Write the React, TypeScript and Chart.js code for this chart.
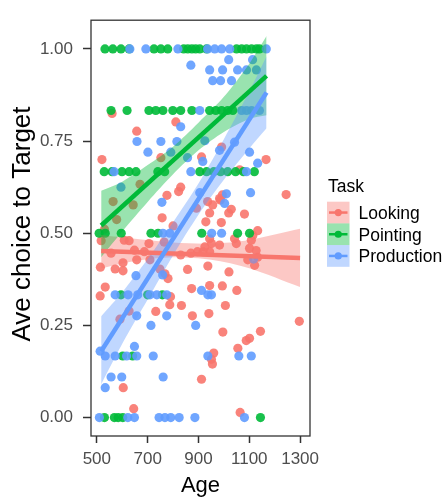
import React, { useEffect, useRef } from "react";
import { Chart, registerables } from "chart.js";

Chart.register(...registerables);

// ---------- DATA ----------
const AGE_TICKS = [500, 700, 900, 1100, 1300];
const CHOICE_TICKS = [0, 0.25, 0.5, 0.75, 1];
const TASKS = ["Looking", "Pointing", "Production"];

const lookingPoints: [number, number][] = [
  [560, 0.825], [657, 0.777], [811, 0.802], [520, 0.7], [912, 0.707], [991, 0.734], [1166, 0.7], [1062, 0.672],
  [670, 0.633], [830, 0.625], [822, 0.613], [776, 0.603], [994, 0.604], [986, 0.59], [1245, 0.605], [956, 0.577],
  [1029, 0.565], [1019, 0.555], [1081, 0.552], [944, 0.555], [929, 0.531], [990, 0.529], [757, 0.542], [800, 0.52],
  [892, 0.568], [936, 0.586], [983, 0.594], [1114, 0.494], [1133, 0.507], [944, 0.485], [1042, 0.485],
  [564, 0.586], [643, 0.577], [578, 0.537], [752, 0.705], [530, 0.511],
  [517, 0.48], [627, 0.48], [608, 0.481], [705, 0.472], [765, 0.476], [556, 0.446], [648, 0.454], [687, 0.45],
  [870, 0.446], [896, 0.45], [918, 0.45], [951, 0.472], [944, 0.45], [983, 0.468], [1049, 0.472], [1108, 0.481],
  [1101, 0.459], [1127, 0.453], [1094, 0.428], [1133, 0.435], [1121, 0.413], [925, 0.463], [830, 0.441],
  [514, 0.408], [572, 0.403], [603, 0.398], [657, 0.428], [709, 0.428], [748, 0.403], [780, 0.377], [768, 0.39],
  [857, 0.402], [937, 0.411], [1020, 0.395], [533, 0.354], [513, 0.33], [790, 0.328], [787, 0.306], [873, 0.35],
  [944, 0.358], [994, 0.357], [1051, 0.345], [833, 0.304], [1006, 0.304],
  [732, 0.288], [627, 0.289], [591, 0.267], [876, 0.276], [941, 0.282], [1297, 0.261], [996, 0.232], [1144, 0.234],
  [1088, 0.209], [1101, 0.215], [1055, 0.188], [960, 0.175], [951, 0.158], [955, 0.145], [912, 0.104], [604, 0.081],
  [645, 0.024], [1064, 0.014], [603, 0.42],
];

const pointingPoints: [number, number][] = [
  [532, 1], [563, 1], [595, 1], [627, 1], [725, 1], [752, 1], [779, 1], [842, 1], [858, 1], [874, 1], [889, 1],
  [905, 1], [932, 1], [1050, 1], [1070, 1], [1089, 1], [1109, 1], [1128, 1], [1140, 1],
  [556, 0.833], [619, 0.833], [705, 0.833], [732, 0.833], [760, 0.833], [799, 0.833], [830, 0.833], [874, 0.833],
  [944, 0.833], [968, 0.833], [991, 0.833], [1015, 0.833], [1035, 0.833],
  [529, 0.667], [560, 0.667], [599, 0.667], [627, 0.667], [654, 0.667], [740, 0.667], [767, 0.667], [905, 0.667],
  [932, 0.667], [960, 0.667], [987, 0.667], [1015, 0.667], [1046, 0.667], [1077, 0.667], [1120, 0.667],
  [509, 0.5], [533, 0.5], [596, 0.5], [713, 0.5], [741, 0.5], [913, 0.5], [1054, 0.5], [1101, 0.5],
  [595, 0.333], [700, 0.333], [758, 0.333],
  [602, 0.167], [641, 0.167],
  [530, 0], [569, 0], [584, 0], [602, 0], [1144, 0],
];

const productionPoints: [number, number][] = [
  [630, 1], [693, 1], [819, 1], [936, 1], [964, 1], [991, 1], [1023, 1], [1167, 1],
  [1019, 0.971], [1113, 0.971], [944, 0.943], [995, 0.943], [1054, 0.943], [1089, 0.943], [1128, 0.943],
  [956, 0.914], [987, 0.914], [1030, 0.914], [870, 0.956],
  [905, 0.833], [1070, 0.833], [1089, 0.833], [1109, 0.833], [1140, 0.833],
  [830, 0.789], [658, 0.749], [752, 0.749], [701, 0.72], [815, 0.749], [791, 0.72], [857, 0.705], [917, 0.695],
  [925, 0.751], [983, 0.725], [1042, 0.747], [1101, 0.72], [1133, 0.69],
  [568, 0.667], [870, 0.667], [1089, 0.667],
  [595, 0.625], [756, 0.584], [1105, 0.61], [1010, 0.607], [1003, 0.581], [905, 0.61],
  [760, 0.5], [787, 0.5], [952, 0.5], [991, 0.5],
  [572, 0.333], [623, 0.333], [661, 0.333], [709, 0.333], [736, 0.333], [775, 0.333], [937, 0.333], [951, 0.333],
  [912, 0.345], [654, 0.385], [759, 0.387], [1117, 0.43],
  [775, 0.276], [657, 0.276], [713, 0.25], [889, 0.25],
  [533, 0.167], [572, 0.167], [617, 0.167], [657, 0.167], [722, 0.167], [937, 0.167], [1059, 0.167], [1108, 0.167],
  [513, 0.18], [648, 0.193],
  [556, 0.11], [598, 0.11], [761, 0.11], [533, 0.081],
  [510, 0], [622, 0], [648, 0], [745, 0], [768, 0], [791, 0], [824, 0], [886, 0], [1081, 0],
];

// fitted lines (end points)
const lookingFit: [number, number][] = [[517, 0.452], [1300, 0.433]];
const pointingFit: [number, number][] = [[517, 0.521], [1168, 0.927]];
const productionFit: [number, number][] = [[517, 0.18], [1168, 0.882]];

// confidence bands (read at a few ages)
const lookingBandAge = [517, 650, 800, 950, 1100, 1300];
const lookingUpper = [0.495, 0.485, 0.475, 0.472, 0.482, 0.512];
const lookingLower = [0.405, 0.425, 0.435, 0.428, 0.405, 0.354];

const bandAge = [517, 600, 700, 800, 900, 1000, 1100, 1168];
const pointingUpper = [0.615, 0.64, 0.685, 0.735, 0.8, 0.87, 0.96, 1.035];
const pointingLower = [0.435, 0.505, 0.585, 0.66, 0.725, 0.775, 0.81, 0.82];
const productionUpper = [0.275, 0.34, 0.43, 0.53, 0.635, 0.755, 0.885, 0.98];
const productionLower = [0.09, 0.2, 0.32, 0.44, 0.55, 0.645, 0.73, 0.785];

// ---------- STYLE ----------
const COLORS = ["#F8766D", "#00BA38", "#619CFF"];
const BANDS = ["rgba(248,118,109,0.4)", "rgba(0,186,56,0.4)", "rgba(97,156,255,0.4)"];
const PTS = ["rgba(248,118,109,0.9)", "rgba(0,186,56,0.9)", "rgba(97,156,255,0.9)"];
const FONT = "'Liberation Sans', Arial, sans-serif";

const toXY = (arr: [number, number][]) => arr.map(([x, y]) => ({ x, y }));
const zipXY = (xs: number[], ys: number[]) => xs.map((x, i) => ({ x, y: ys[i] }));

const decorPlugin = {
  id: "decor",
  afterDraw(chart: any) {
    const { ctx, chartArea } = chart;
    const { left, right, top, bottom } = chartArea;
    ctx.save();
    // panel border
    ctx.strokeStyle = "#333333";
    ctx.lineWidth = 1.3;
    ctx.strokeRect(left, top, right - left, bottom - top);

    // axis titles
    ctx.fillStyle = "#000000";
    ctx.font = `22px ${FONT}`;
    ctx.textAlign = "center";
    ctx.textBaseline = "alphabetic";
    ctx.fillText("Age", (left + right) / 2, 492);

    ctx.save();
    ctx.translate(29.5, 224);
    ctx.rotate(-Math.PI / 2);
    ctx.font = `26px ${FONT}`;
    ctx.fillText("Ave choice to Target", 0, 0);
    ctx.restore();

    // legend
    ctx.textAlign = "left";
    ctx.font = `17.5px ${FONT}`;
    ctx.fillStyle = "#000000";
    ctx.fillText("Task", 328, 192);
    const keyX = 327;
    const keyW = 22.5;
    const keyH = 21.7;
    const keyTop = 201.7;
    TASKS.forEach((t, i) => {
      const y0 = keyTop + i * keyH;
      const cy = y0 + keyH / 2;
      ctx.fillStyle = BANDS[i];
      ctx.fillRect(keyX, y0, keyW, keyH);
      ctx.strokeStyle = COLORS[i];
      ctx.lineWidth = 2.5;
      ctx.beginPath();
      ctx.moveTo(keyX + 2, cy);
      ctx.lineTo(keyX + keyW - 2, cy);
      ctx.stroke();
      ctx.fillStyle = COLORS[i];
      ctx.beginPath();
      ctx.arc(keyX + keyW / 2, cy, 3.6, 0, Math.PI * 2);
      ctx.fill();
      ctx.fillStyle = "#000000";
      ctx.fillText(t, 358.5, cy + 6.3);
    });
    ctx.restore();
  },
};

export default function App() {
  const ref = useRef<HTMLCanvasElement | null>(null);

  useEffect(() => {
    if (!ref.current) return;
    const lineDs = (data: [number, number][], i: number) => ({
      type: "line" as const,
      data: toXY(data),
      borderColor: COLORS[i],
      borderWidth: 4.5,
      pointRadius: 0,
      fill: false,
      showLine: true,
      borderCapStyle: "butt" as const,
    });
    const upperDs = (xs: number[], ys: number[], i: number) => ({
      type: "line" as const,
      data: zipXY(xs, ys),
      borderColor: "transparent",
      borderWidth: 0,
      pointRadius: 0,
      backgroundColor: BANDS[i],
      fill: "+1",
      showLine: true,
      tension: 0.3,
    });
    const lowerDs = (xs: number[], ys: number[]) => ({
      type: "line" as const,
      data: zipXY(xs, ys),
      borderColor: "transparent",
      borderWidth: 0,
      pointRadius: 0,
      fill: false,
      showLine: true,
      tension: 0.3,
    });
    const pointDs = (data: [number, number][], i: number) => ({
      type: "scatter" as const,
      data: toXY(data),
      backgroundColor: PTS[i],
      borderWidth: 0,
      pointRadius: 4.6,
      pointHoverRadius: 4.6,
    });

    const chart = new Chart(ref.current, {
      type: "scatter",
      data: {
        datasets: [
          lineDs(productionFit, 2),
          lineDs(pointingFit, 1),
          lineDs(lookingFit, 0),
          upperDs(bandAge, productionUpper, 2),
          lowerDs(bandAge, productionLower),
          upperDs(bandAge, pointingUpper, 1),
          lowerDs(bandAge, pointingLower),
          upperDs(lookingBandAge, lookingUpper, 0),
          lowerDs(lookingBandAge, lookingLower),
          pointDs(productionPoints, 2),
          pointDs(pointingPoints, 1),
          pointDs(lookingPoints, 0),
        ] as any,
      },
      options: {
        animation: false,
        responsive: false,
        devicePixelRatio: 1,
        layout: { padding: { top: 5, right: 135, bottom: 0, left: 0 } },
        plugins: { legend: { display: false }, tooltip: { enabled: false } },
        scales: {
          x: {
            type: "linear",
            min: 477,
            max: 1339,
            afterBuildTicks: (s: any) => {
              s.ticks = AGE_TICKS.map((v) => ({ value: v }));
            },
            afterFit: (s: any) => {
              s.height = 68;
            },
            ticks: {
              color: "#4d4d4d",
              font: { size: 17, family: FONT },
              padding: 6,
              maxRotation: 0,
              autoSkip: false,
              callback: (v: any) => String(v),
            },
            grid: { drawOnChartArea: false, drawTicks: true, tickLength: 7, tickColor: "#333333", tickWidth: 1.5 },
            border: { display: false },
          },
          y: {
            type: "linear",
            min: -0.05,
            max: 1.078,
            afterBuildTicks: (s: any) => {
              s.ticks = CHOICE_TICKS.map((v) => ({ value: v }));
            },
            afterFit: (s: any) => {
              s.width = 91;
            },
            ticks: {
              color: "#4d4d4d",
              font: { size: 17, family: FONT },
              padding: 10,
              autoSkip: false,
              callback: (v: any) => Number(v).toFixed(2),
            },
            grid: { drawOnChartArea: false, drawTicks: true, tickLength: 8, tickColor: "#333333", tickWidth: 1.5 },
            border: { display: false },
          },
        },
      },
      plugins: [decorPlugin],
    });
    return () => chart.destroy();
  }, []);

  return (
    <div style={{ position: "fixed", left: 0, top: 0, width: 445, height: 504, background: "#ffffff" }}>
      <canvas ref={ref} width={445} height={504} style={{ width: 445, height: 504, display: "block" }} />
    </div>
  );
}
